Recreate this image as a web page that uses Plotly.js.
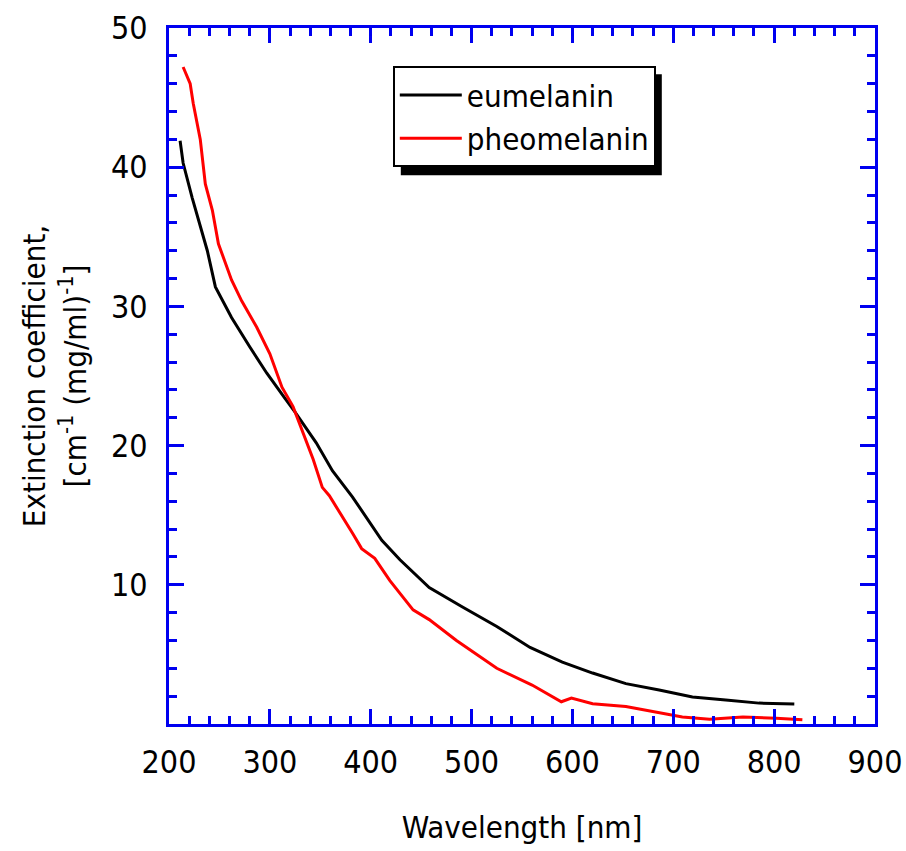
<!DOCTYPE html>
<html>
<head>
<meta charset="utf-8">
<script src="https://cdn.plot.ly/plotly-3.0.1.min.js"></script>
<style>
  html, body { margin: 0; padding: 0; background: #fff; }
  #chart { width: 906px; height: 851px; }
</style>
</head>
<body>
<div id="chart"></div>
<script>
// Eumelanin: wavelength (nm) and extinction coefficient
const euWavelength = [211, 214, 223, 231, 238, 246, 262, 280, 297, 315, 325, 346, 362, 382, 411, 429, 458, 491, 525, 558, 590, 620, 653, 686, 719, 752, 785, 820];
const euExtinction = [41.9, 40.3, 37.8, 35.7, 34.0, 31.4, 29.2, 27.1, 25.2, 23.4, 22.4, 20.2, 18.2, 16.3, 13.2, 11.8, 9.8, 8.4, 7.0, 5.5, 4.45, 3.66, 2.9, 2.44, 1.94, 1.72, 1.5, 1.44];

// Pheomelanin: wavelength (nm) and extinction coefficient
const pheoWavelength = [214, 221, 224, 231, 236, 243, 249, 262, 272, 287, 300, 312, 323, 333, 343, 352, 359, 382, 391, 404, 419, 442, 458, 485, 525, 560, 589, 599, 620, 653, 686, 709, 736, 769, 802, 828];
const pheoExtinction = [47.2, 46.0, 44.6, 42.0, 38.8, 36.9, 34.5, 31.9, 30.4, 28.5, 26.6, 24.2, 22.8, 20.9, 19.0, 17.0, 16.4, 13.7, 12.6, 11.9, 10.3, 8.2, 7.5, 6.0, 4.0, 2.8, 1.6, 1.87, 1.45, 1.25, 0.78, 0.5, 0.34, 0.5, 0.42, 0.3];

const seriesNames = ["eumelanin", "pheomelanin"];
const xTickVals = [200, 300, 400, 500, 600, 700, 800, 900];
const yTickVals = [10, 20, 30, 40, 50];

const FONT = "'Liberation Sans Narrow', 'Arial Narrow', 'DejaVu Sans Condensed', 'Liberation Sans', Arial, sans-serif";
const BLUE = "#0000f0";

const traces = [
  { x: euWavelength, y: euExtinction, name: seriesNames[0], mode: "lines", type: "scatter",
    line: { color: "#000000", width: 3 } },
  { x: pheoWavelength, y: pheoExtinction, name: seriesNames[1], mode: "lines", type: "scatter",
    line: { color: "#ff0000", width: 3 } }
];

const axisCommon = {
  showline: true, linecolor: BLUE, linewidth: 3, mirror: "allticks",
  ticks: "inside", tickcolor: BLUE, tickwidth: 3, ticklen: 15,
  showgrid: false, zeroline: false, ticklabeloverflow: "allow",
  tickfont: { family: FONT, size: 32, color: "#000" }
};

const layout = {
  width: 906, height: 851,
  margin: { l: 169, r: 31, t: 28, b: 127 },
  paper_bgcolor: "#fff", plot_bgcolor: "#fff",
  font: { family: FONT, color: "#000" },
  showlegend: true,
  legend: {
    x: 0.317, y: 0.945, xanchor: "left", yanchor: "top",
    bgcolor: "#fff", bordercolor: "#000", borderwidth: 2,
    font: { family: FONT, size: 31, color: "#000" },
    itemwidth: 62, tracegroupgap: 0
  },
  xaxis: Object.assign({}, axisCommon, {
    range: [200, 900], tickvals: xTickVals, ticklabelstandoff: 8,
    minor: { dtick: 20, ticks: "inside", ticklen: 8, tickcolor: BLUE, tickwidth: 3 },
    title: { text: "Wavelength [nm]", font: { family: FONT, size: 31, color: "#000" }, standoff: 36 }
  }),
  yaxis: Object.assign({}, axisCommon, {
    range: [0, 50], tickvals: yTickVals, ticklabelstandoff: 12,
    minor: { dtick: 2, ticks: "inside", ticklen: 8, tickcolor: BLUE, tickwidth: 3 },
    title: { text: "Extinction coefficient,<br>[cm<sup>-1</sup> (mg/ml)<sup>-1</sup>]", font: { family: FONT, size: 31, color: "#000" }, standoff: 16 }
  }),
  shapes: [
    { type: "rect", xref: "paper", yref: "paper", layer: "below",
      x0: (398 - 169) / 706, x1: (664 - 169) / 706, y0: (724 - 190) / 696, y1: (724 - 72) / 696,
      fillcolor: "#000", line: { width: 0 } }
  ]
};

Plotly.newPlot("chart", traces, layout, { displayModeBar: false, staticPlot: true }).then(function (gd) {
  // align the drop shadow with the rendered legend box
  const bg = gd.querySelector(".legend .bg");
  if (bg) {
    const r = bg.getBoundingClientRect();
    const c = gd.getBoundingClientRect();
    const L = r.left - c.left, T = r.top - c.top, R = r.right - c.left, B = r.bottom - c.top;
    const off = 7;
    Plotly.relayout(gd, {
      "shapes[0].x0": (L + off - 169) / 706, "shapes[0].x1": (R + off - 169) / 706,
      "shapes[0].y0": (724 - (B + off + 2)) / 696, "shapes[0].y1": (724 - (T + off)) / 696
    });
  }
});
</script>
</body>
</html>
